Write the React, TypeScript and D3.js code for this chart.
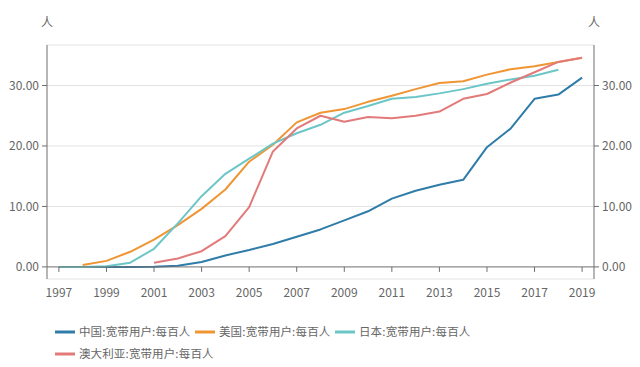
import * as d3 from 'd3';

const years = d3.range(1997, 2020).map(String);
const xTickYears = years.filter((_, i) => i % 2 === 0);
const yTicks = [0, 10, 20, 30];

// per 100 people (null = no data)
const china = [null, 0, 0, 0, 0.03, 0.2, 0.8, 1.9, 2.8, 3.8, 5.0, 6.2, 7.7, 9.2, 11.3, 12.6, 13.6, 14.4, 19.8, 22.9, 27.8, 28.5, 31.3];
const usa = [null, 0.3, 1.0, 2.5, 4.5, 6.9, 9.6, 12.8, 17.4, 20.2, 23.9, 25.5, 26.1, 27.3, 28.3, 29.4, 30.4, 30.7, 31.8, 32.7, 33.2, 33.9, 34.6];
const japan = [0, 0, 0.1, 0.7, 3.0, 7.2, 11.7, 15.4, 17.9, 20.4, 22.1, 23.5, 25.5, 26.6, 27.8, 28.1, 28.7, 29.4, 30.3, 31.0, 31.6, 32.6, null];
const australia = [null, null, null, null, 0.7, 1.4, 2.6, 5.1, 9.9, 19.1, 22.9, 25.0, 24.0, 24.8, 24.6, 25.0, 25.7, 27.8, 28.6, 30.5, 32.2, 33.9, 34.6];

const seriesNames = ['中国:宽带用户:每百人', '美国:宽带用户:每百人', '日本:宽带用户:每百人', '澳大利亚:宽带用户:每百人'];
const seriesValues = [china, usa, japan, australia];
const colors = ['#2f7ca8', '#ef9534', '#6cc6c7', '#e27a7a'];

const W = 640;
const H = 367;
const font = '"Noto Sans CJK SC", "Noto Sans", sans-serif';
const textColor = '#666';
const axisColor = '#6e6e6e';

// lay out a legend label glyph by glyph so its width matches the original
const glyphOffsets = (s: string) => {
  let acc = 0;
  return Array.from(s).map((ch) => {
    const pos = { ch, x: acc };
    acc += ch === ':' ? 3.5 : 11.6;
    return pos;
  });
};

export default function App() {
  const left = 47;
  const right = 594;
  const top = 45;
  const bottom = 279;

  const x = d3.scaleBand<string>().domain(years).range([left, right]).padding(0);
  const cx = (yr: string) => (x(yr) ?? 0) + x.bandwidth() / 2;
  const y = d3.scaleLinear().domain([-2, 36.7]).range([bottom, top]);

  const line = d3
    .line<number | null>()
    .defined((d) => d !== null)
    .x((_, i) => cx(years[i]))
    .y((d) => y(d as number));

  const legendPos = [
    { lx: 55, ly: 332 },
    { lx: 195, ly: 332 },
    { lx: 335, ly: 332 },
    { lx: 55, ly: 354 },
  ];

  return (
    <svg width={W} height={H} style={{ position: 'absolute', left: 0, top: 0, fontFamily: font }}>
      {/* grid */}
      {[...yTicks.slice(1), 36.7, -2].map((t) => (
        <line key={t} x1={left} x2={right} y1={y(t)} y2={y(t)} stroke="#e3e3e3" strokeWidth={1} />
      ))}

      {/* series */}
      {seriesValues.map((vals, i) => (
        <path key={i} d={line(vals) ?? ''} fill="none" stroke={colors[i]} strokeWidth={2} strokeLinejoin="round" />
      ))}

      {/* x axis */}
      <line x1={left} x2={right} y1={y(0)} y2={y(0)} stroke={axisColor} />
      {xTickYears.map((yr) => (
        <g key={yr}>
          <line x1={cx(yr)} x2={cx(yr)} y1={y(0)} y2={y(0) + 5} stroke={axisColor} />
          <text x={cx(yr)} y={y(0) + 30} textAnchor="middle" fontSize={12} fill={textColor}>
            {yr}
          </text>
        </g>
      ))}

      {/* y axes */}
      <line x1={left} x2={left} y1={top} y2={bottom} stroke={axisColor} />
      <line x1={right} x2={right} y1={top} y2={bottom} stroke={axisColor} />
      {yTicks.map((t) => (
        <g key={t}>
          <line x1={left - 5} x2={left} y1={y(t)} y2={y(t)} stroke={axisColor} />
          <text x={left - 8} y={y(t)} dy="0.35em" textAnchor="end" fontSize={12} fill={textColor}>
            {t.toFixed(2)}
          </text>
          <line x1={right} x2={right + 5} y1={y(t)} y2={y(t)} stroke={axisColor} />
          <text x={right + 8} y={y(t)} dy="0.35em" textAnchor="start" fontSize={12} fill={textColor}>
            {t.toFixed(2)}
          </text>
        </g>
      ))}
      <text x={left} y={23} dy="0.35em" textAnchor="middle" fontSize={12} fill={textColor}>人</text>
      <text x={right} y={23} dy="0.35em" textAnchor="middle" fontSize={12} fill={textColor}>人</text>

      {/* legend */}
      {seriesNames.map((name, i) => (
        <g key={name} transform={`translate(${legendPos[i].lx},${legendPos[i].ly})`}>
          <line x1={0} x2={20} y1={0} y2={0} stroke={colors[i]} strokeWidth={3} />
          <text y={0} dy="0.35em" fontSize={11.5} fill={textColor}>
            {glyphOffsets(name).map((g, k) => (
              <tspan key={k} x={24 + g.x}>
                {g.ch}
              </tspan>
            ))}
          </text>
        </g>
      ))}
    </svg>
  );
}
